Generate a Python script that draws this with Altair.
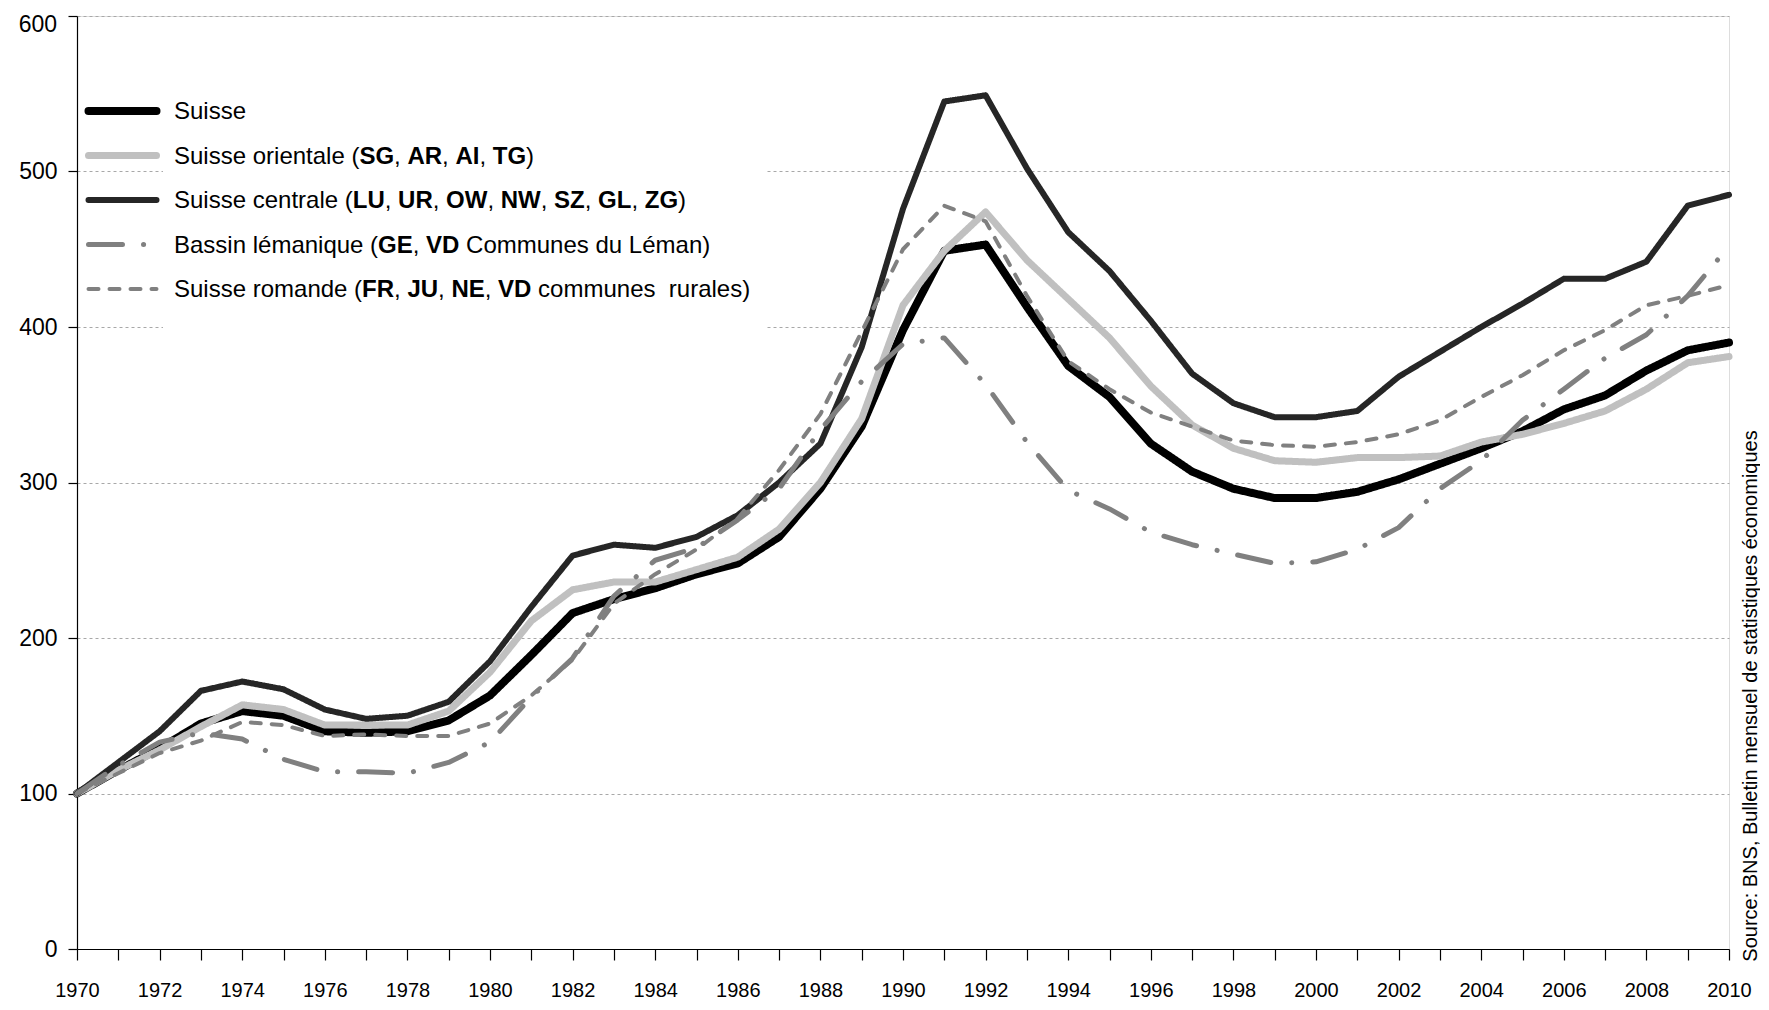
import altair as alt
import pandas as pd

# ---------------- data ----------------
years = list(range(1970, 2011))

series_names = [
    "Suisse",
    "Suisse orientale",
    "Suisse centrale",
    "Bassin lémanique",
    "Suisse romande",
]

suisse = [100, 115, 129, 145, 153, 150, 140, 139, 140, 147,
          163, 189, 216, 225, 232, 241, 248, 265, 296, 336,
          398, 449, 453, 413, 375, 355, 325, 307, 296, 290,
          290, 294, 302, 312, 322, 333, 347, 356, 372, 385,
          390]
orientale = [100, 115, 128, 143, 157, 154, 144, 144, 144, 153,
             178, 211, 231, 236, 236, 244, 252, 270, 300, 341,
             414, 449, 474, 443, 418, 393, 362, 337, 322, 314,
             313, 316, 316, 317, 326, 331, 338, 346, 360, 377,
             381]
centrale = [100, 120, 140, 166, 172, 167, 154, 148, 150, 159,
            185, 220, 253, 260, 258, 265, 279, 300, 325, 387,
            476, 545, 549, 502, 461, 436, 404, 370, 351, 342,
            342, 346, 368, 384, 400, 415, 431, 431, 442, 478,
            485]
bassin = [100, 118, 133, 139, 135, 122, 114, 114, 113, 120,
          133, 162, 187, 227, 250, 258, 276, 296, 334, 365,
          389, 393, 363, 326, 295, 283, 268, 260, 254, 248,
          249, 257, 271, 296, 314, 340, 360, 380, 395, 420,
          452]
romande = [100, 113, 126, 134, 146, 144, 137, 138, 137, 137,
           145, 163, 186, 222, 241, 257, 277, 308, 344, 397,
           450, 478, 468, 420, 378, 360, 345, 336, 327, 324,
           323, 326, 331, 340, 355, 369, 385, 398, 414, 420,
           427]

y_ticks = [0, 100, 200, 300, 400, 500, 600]

legend_segments = [
    [("Suisse", False)],
    [("Suisse orientale (", False), ("SG", True), (", ", False), ("AR", True),
     (", ", False), ("AI", True), (", ", False), ("TG", True), (")", False)],
    [("Suisse centrale (", False), ("LU", True), (", ", False), ("UR", True),
     (", ", False), ("OW", True), (", ", False), ("NW", True), (", ", False),
     ("SZ", True), (", ", False), ("GL", True), (", ", False), ("ZG", True),
     (")", False)],
    [("Bassin lémanique (", False), ("GE", True), (", ", False), ("VD", True),
     (" Communes du Léman)", False)],
    [("Suisse romande (", False), ("FR", True), (", ", False), ("JU", True),
     (", ", False), ("NE", True), (", ", False), ("VD", True),
     (" communes\u00a0 rurales)", False)],
]

source_text = "Source: BNS, Bulletin mensuel de statistiques économiques"

# ---------------- styles ----------------
FONT = "Liberation Sans"
colors = ["#000000", "#c0c0c0", "#262626", "#808080", "#808080"]
dashes = [[1, 0], [1, 0], [1, 0], [34, 21, 0.1, 21], [10, 11]]
widths = [8, 4, 4, 4, 4]

W, H = 1652, 933
X0, X1 = 1970, 2010
Y0, Y1 = 0, 600
YLAB_FS = 23

def px_to_year(px):
    return X0 + px * (X1 - X0) / W

def py_to_val(py):
    return Y1 - py * (Y1 - Y0) / H

# Arial / Liberation Sans advance widths (1/1000 em)
REG = {" ": 278, "\u00a0": 278, "(": 333, ")": 333, ",": 278, "B": 667, "C": 722,
       "L": 556, "S": 667, "a": 556, "b": 556, "c": 500, "d": 556, "e": 556,
       "é": 556, "i": 222, "l": 222, "m": 833, "n": 556, "o": 556, "q": 556,
       "r": 333, "s": 500, "t": 278, "u": 556}
BOLD = {" ": 278, "A": 722, "D": 722, "E": 667, "F": 611, "G": 778, "I": 278,
        "J": 556, "L": 611, "N": 722, "O": 778, "R": 722, "S": 667, "T": 611,
        "U": 722, "V": 667, "W": 944, "Z": 611}
LEG_FS = 24

def text_width(s, bold):
    table = BOLD if bold else REG
    return sum(table.get(c, 556) for c in s) * LEG_FS / 1000.0

# ---------------- tables ----------------
rows = []
for name, vals in zip(series_names, [suisse, orientale, centrale, bassin, romande]):
    for yr, v in zip(years, vals):
        rows.append({"series": name, "year": yr, "value": v})
df = pd.DataFrame(rows)

leg_sym_x0, leg_sym_x1 = 11.5, 79.5
leg_text_x = 97
leg_y0, leg_dy = 95, 44.5

leg_rows = []
txt_rows = []
for i, (name, segs) in enumerate(zip(series_names, legend_segments)):
    py = leg_y0 + i * leg_dy
    leg_rows.append({"series": name, "year": px_to_year(leg_sym_x0),
                     "year2": px_to_year(leg_sym_x1), "value": py_to_val(py)})
    x = leg_text_x
    for s, bold in segs:
        lead = len(s) - len(s.lstrip(" "))
        xs = x + lead * 278 * LEG_FS / 1000.0
        txt_rows.append({"year": px_to_year(xs), "value": py_to_val(py + 1),
                         "txt": s.strip(" "), "bold": bold})
        x += text_width(s, bold)
leg_df = pd.DataFrame(leg_rows)
txt_df = pd.DataFrame(txt_rows)

box_df = pd.DataFrame([{"year": px_to_year(86), "year2": px_to_year(688),
                        "value": py_to_val(62), "value2": py_to_val(330)}])

top_label_df = pd.DataFrame([{"year": X0, "value": y_ticks[-1],
                              "txt": str(y_ticks[-1])}])

# ---------------- chart ----------------
xscale = alt.Scale(domain=[X0, X1], nice=False, zero=False)
yscale = alt.Scale(domain=[Y0, Y1], nice=False)
cscale = alt.Scale(domain=series_names, range=colors)
dscale = alt.Scale(domain=series_names, range=dashes)
wscale = alt.Scale(domain=series_names, range=widths)

x_axis = alt.Axis(values=years, format="d",
                  labelExpr="datum.value % 2 === 0 ? datum.label : ''",
                  tickSize=11, tickColor="black", domainColor="black",
                  tickWidth=1.2, domainWidth=1.2,
                  labelFontSize=20, labelFont=FONT, labelColor="black",
                  labelPadding=20, labelOverlap=False, labelFlush=False,
                  grid=False, title=None)
# the top label (600) is drawn below as a text mark, pushed inside like the reference
y_axis = alt.Axis(values=y_ticks, tickSize=9, tickColor="black",
                  labelExpr="datum.value === 600 ? '' : datum.label",
                  domainColor="black", tickWidth=1.2, domainWidth=1.2,
                  labelFontSize=YLAB_FS, labelFont=FONT, labelColor="black",
                  labelPadding=11, grid=True, gridDash=[3, 3],
                  gridColor="#a8a8a8", gridWidth=1, title=None)

box = alt.Chart(box_df).mark_rect(color="white").encode(
    x=alt.X("year:Q", scale=xscale, axis=x_axis),
    x2="year2:Q",
    y=alt.Y("value:Q", scale=yscale, axis=y_axis),
    y2="value2:Q",
)

lines = alt.Chart(df).mark_line(strokeCap="round", strokeJoin="round").encode(
    x=alt.X("year:Q", scale=xscale),
    y=alt.Y("value:Q", scale=yscale),
    color=alt.Color("series:N", scale=cscale, legend=None),
    strokeDash=alt.StrokeDash("series:N", scale=dscale, legend=None),
    strokeWidth=alt.StrokeWidth("series:N", scale=wscale, legend=None),
    detail="series:N",
)

leg_lines = alt.Chart(leg_df).mark_rule(strokeCap="round").encode(
    x=alt.X("year:Q", scale=xscale),
    x2="year2:Q",
    y=alt.Y("value:Q", scale=yscale),
    color=alt.Color("series:N", scale=cscale, legend=None),
    strokeDash=alt.StrokeDash("series:N", scale=dscale, legend=None),
    strokeWidth=alt.StrokeWidth("series:N", scale=wscale, legend=None),
)

leg_reg = alt.Chart(txt_df).transform_filter("!datum.bold").mark_text(
    align="left", baseline="middle", fontSize=LEG_FS, font=FONT, color="black"
).encode(x=alt.X("year:Q", scale=xscale), y=alt.Y("value:Q", scale=yscale),
         text="txt:N")

leg_bold = alt.Chart(txt_df).transform_filter("datum.bold").mark_text(
    align="left", baseline="middle", fontSize=LEG_FS, font=FONT,
    fontWeight="bold", color="black"
).encode(x=alt.X("year:Q", scale=xscale), y=alt.Y("value:Q", scale=yscale),
         text="txt:N")

top_label = alt.Chart(top_label_df).mark_text(
    align="right", baseline="top", dx=-20, dy=-2, fontSize=YLAB_FS, font=FONT,
    color="black"
).encode(x=alt.X("year:Q", scale=xscale), y=alt.Y("value:Q", scale=yscale),
         text="txt:N")

source = alt.Chart(pd.DataFrame([{"t": source_text}])).mark_text(
    angle=270, align="center", baseline="middle", fontSize=20, font=FONT,
    color="black"
).encode(x=alt.value(1674), y=alt.value(680), text="t:N")

chart = alt.layer(box, lines, leg_lines, leg_reg, leg_bold, top_label,
                  source).properties(
    width=W, height=H,
    autosize=alt.AutoSizeParams(type="none"),
    padding={"left": 69, "top": 8, "right": 31, "bottom": 53},
).configure_view(stroke=None).configure(background="white")

chart.save("out.html", embed_options={"renderer": "svg", "actions": False})
